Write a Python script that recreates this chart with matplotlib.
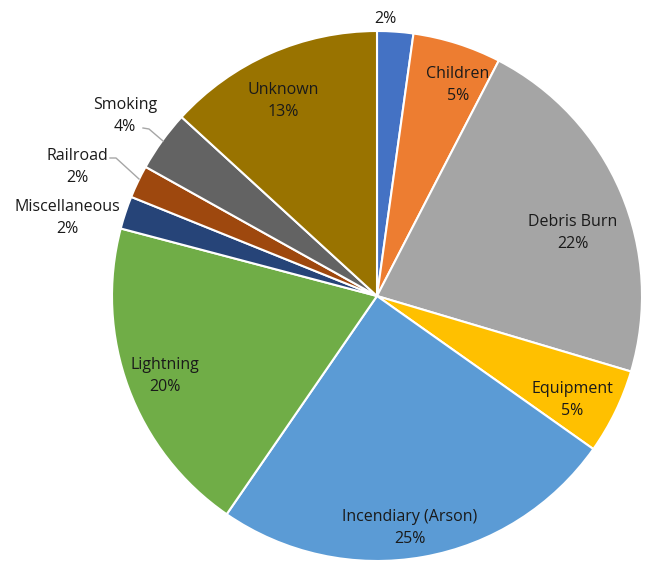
import matplotlib.pyplot as plt
import numpy as np

plt.rcParams['font.family'] = ['Open Sans', 'DejaVu Sans']

# slice values (percent) and their labels
names = ['', 'Children', 'Debris Burn', 'Equipment', 'Incendiary (Arson)',
         'Lightning', 'Miscellaneous', 'Railroad', 'Smoking', 'Unknown']
values = [2.2, 5.4, 22.0, 5.2, 24.8, 19.5, 2.0, 2.0, 3.7, 13.2]
pct_labels = ['2%', '5%', '22%', '5%', '25%', '20%', '2%', '2%', '4%', '13%']
colors = ['#4472C4', '#ED7D31', '#A5A5A5', '#FFC000', '#5B9BD5',
          '#70AD47', '#264478', '#9E480E', '#636363', '#997300']

W, H = 649, 561
fig = plt.figure(figsize=(W / 100, H / 100), dpi=100)
ax = fig.add_axes([0, 0, 1, 1])
ax.set_xlim(0, W)
ax.set_ylim(0, H)
ax.set_aspect('equal')
ax.axis('off')

cx, cy, R = 377, H - 296, 265
wedges, _ = ax.pie(values, colors=colors, startangle=90, counterclock=False,
                   radius=R, center=(cx, cy),
                   wedgeprops=dict(edgecolor='white', linewidth=1.5))
ax.set_xlim(0, W)
ax.set_ylim(0, H)

# label positions (pixel coords, y from top)
label_pos = [(385, 19), (458, 85), (573, 233), (572, 400), (410, 528),
             (165, 376), (67, 218), (77, 167), (125, 116), (283, 101)]

for name, pct, (x, y) in zip(names, pct_labels, label_pos):
    txt = pct if name == '' else name + '\n' + pct
    ax.text(x, H - y, txt, ha='center', va='center', fontsize=11.5,
            color='#1a1a1a', linespacing=1.45)

# leader lines for outside labels
leaders = [
    [(143, 128), (149, 129), (163, 141)],   # Smoking
    [(110, 158), (116, 158), (139, 179)],   # Railroad
]
for pts in leaders:
    xs = [p[0] for p in pts]
    ys = [H - p[1] for p in pts]
    ax.plot(xs, ys, color='#A6A6A6', linewidth=1)

plt.savefig('out.png', dpi=100, facecolor='white')
